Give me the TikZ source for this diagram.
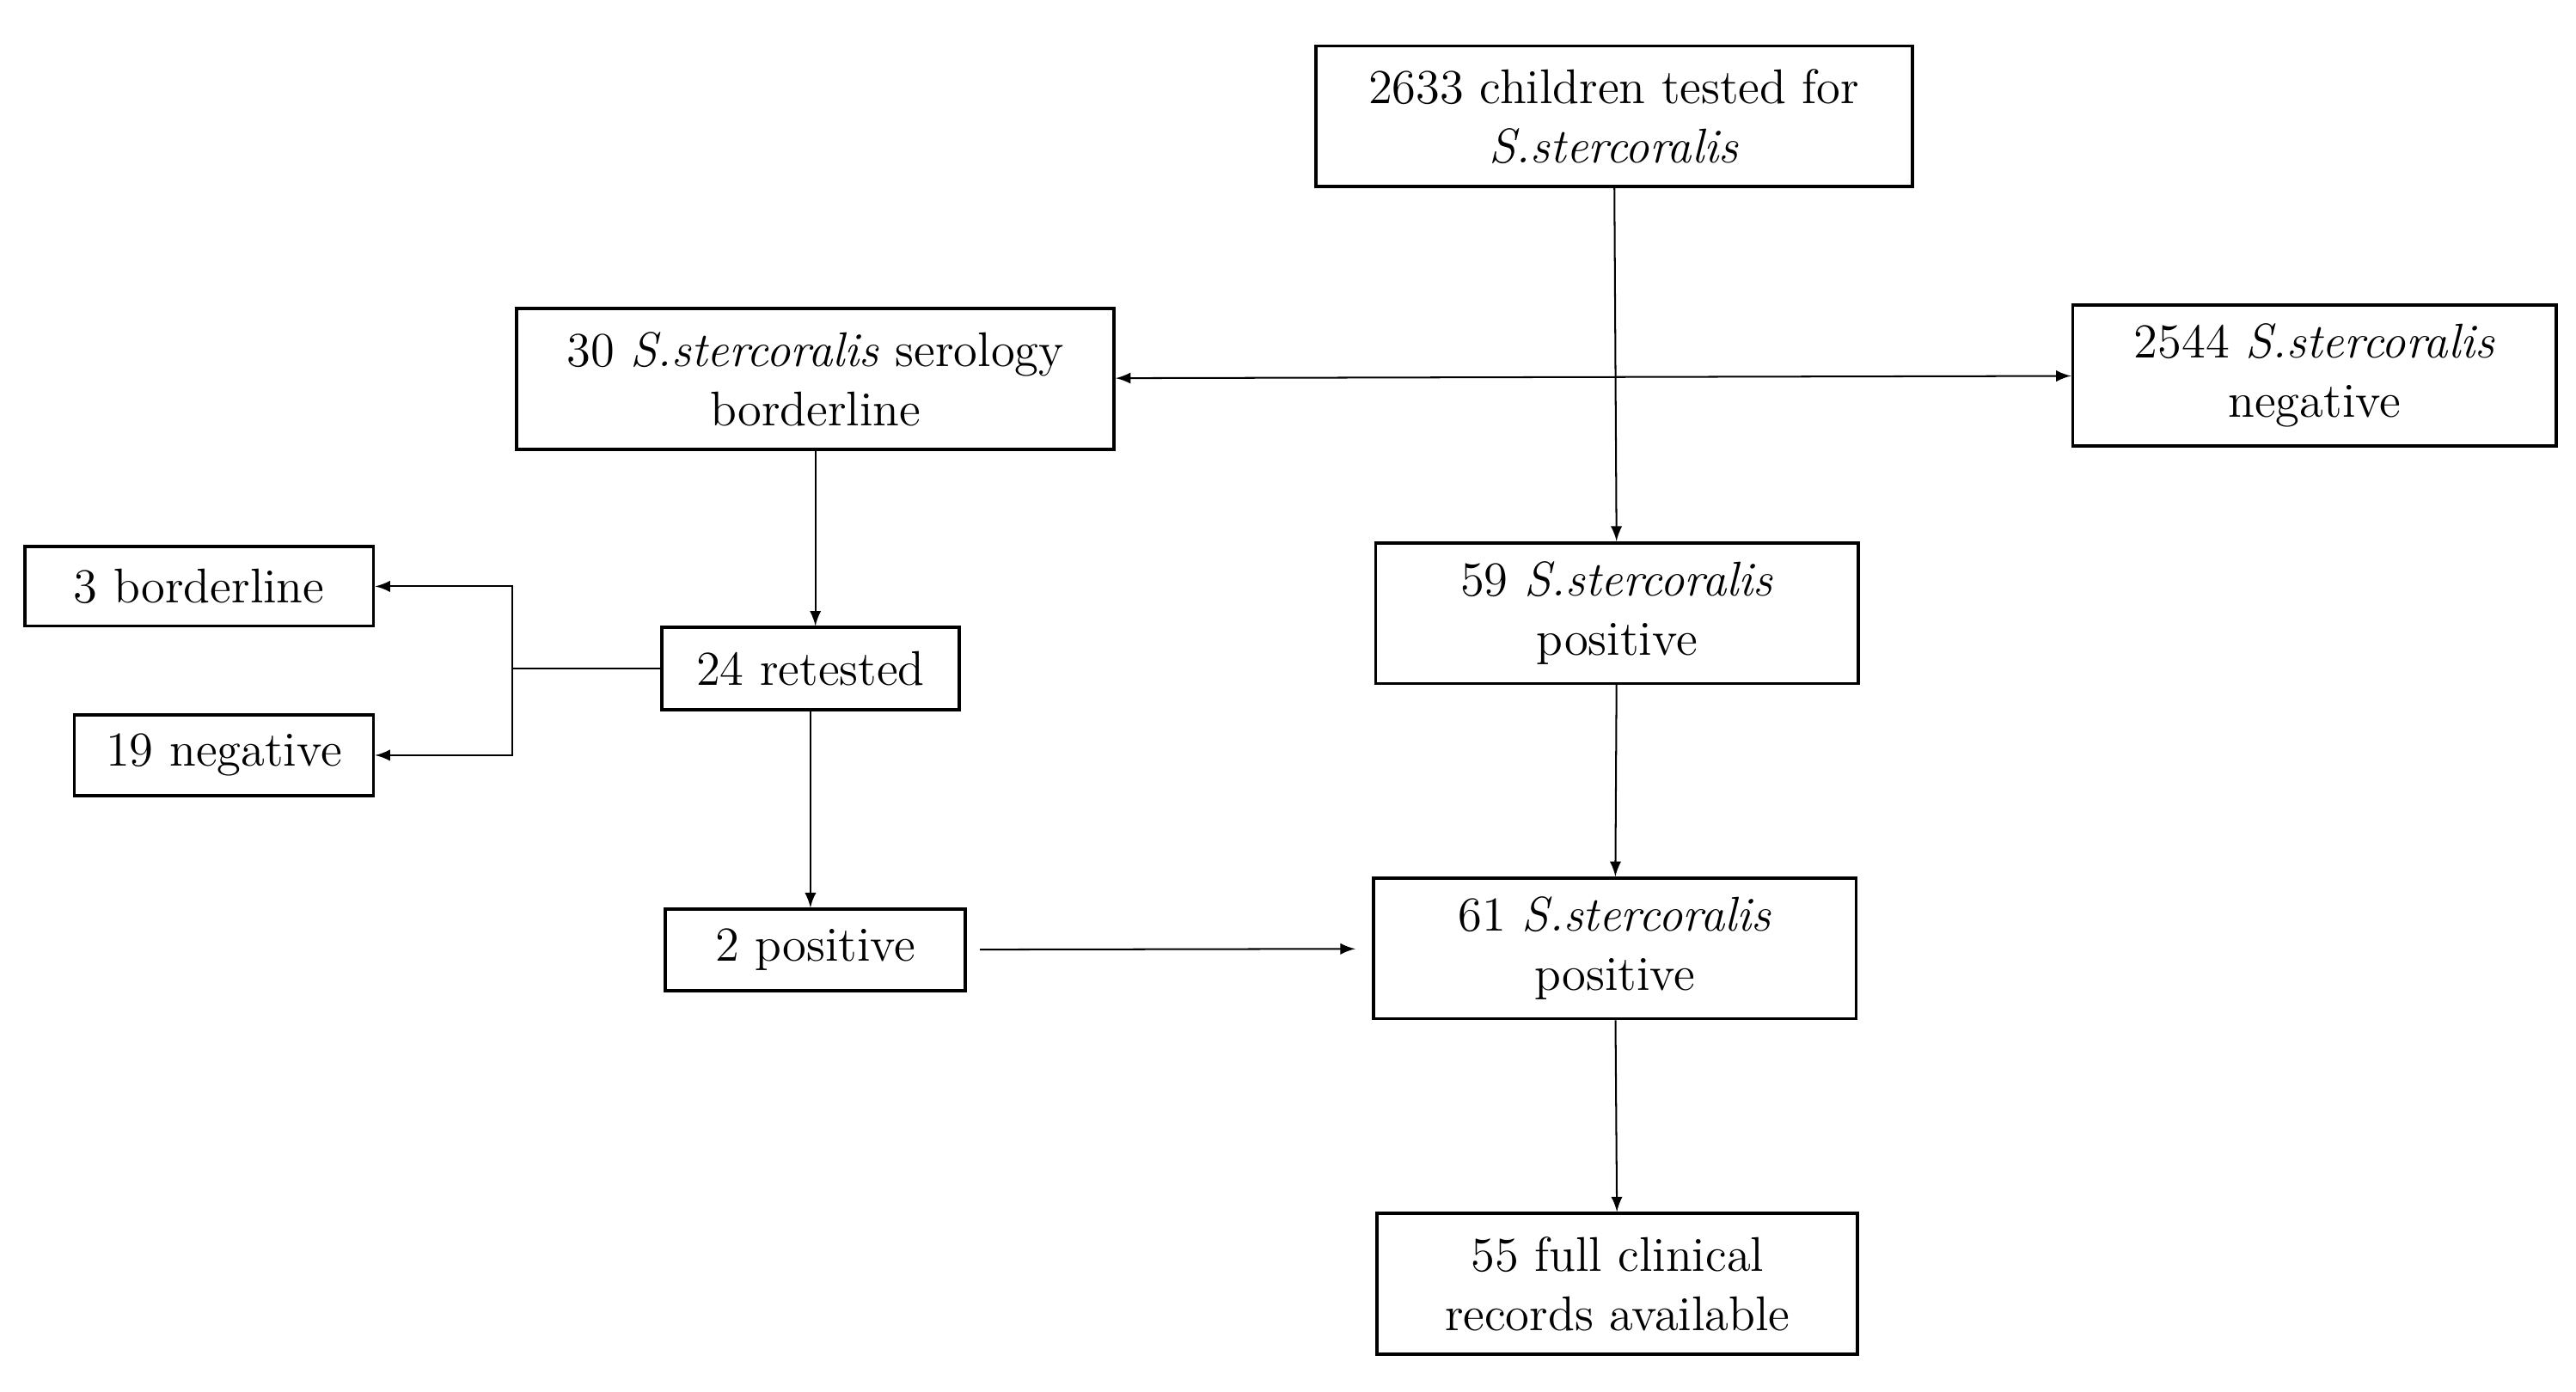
\documentclass[tikz,border=0pt]{standalone}
\begin{document}
\begin{tikzpicture}
		\tikzstyle{fleche}=[->,>=latex,line width=0.5pt]
		\tikzstyle{boite}=[draw,line width=0.9pt,align=center,inner sep=2pt,font=\fontsize{14}{17}\selectfont]
		\tikzstyle{grande}=[boite,minimum height=1.42cm]
		\tikzstyle{petite}=[boite,minimum height=0.82cm]
		
		\def\ColG{8.23}
		\def\ColD{16.30}
		
		\useasboundingbox (0,0) rectangle (26,-14.05);
		
		\node[grande,minimum width=6.02cm] (T) at (16.29,-1.175) {2633 children tested for\\ \textit{S.stercoralis}};
		\node[grande,minimum width=6.03cm] (B30) at ({\ColG},-3.825) {30 \textit{S.stercoralis} serology\\ borderline};
		\node[grande,minimum width=4.88cm] (N2544) at (23.36,-3.79) {2544 \textit{S.stercoralis}\\ negative};
		\node[petite,minimum width=3.52cm,minimum height=0.80cm] (B3) at (2.01,-5.92) {3 borderline};
		\node[petite,minimum width=3.02cm] (N19) at (2.26,-7.625) {19 negative};
		\node[petite,minimum width=3.0cm,minimum height=0.83cm] (R24) at (8.18,-6.75) {24 retested};
		\node[grande,minimum width=4.87cm] (P59) at (16.32,-6.19) {59 \textit{S.stercoralis}\\ positive};
		\node[petite,minimum width=3.03cm] (P2) at ({\ColG},-9.59) {2 positive};
		\node[grande,minimum width=4.87cm] (P61) at ({\ColD},-9.575) {61 \textit{S.stercoralis}\\ positive};
		\node[grande,minimum width=4.85cm] (C55) at (16.325,-12.96) {55 full clinical\\ records available};
		
		\coordinate (J) at (5.17,-6.75);
		
		\draw[fleche] (T) -- (P59);
		\draw[fleche,<->] (B30) -- (N2544);
		\draw[fleche] (B30.south) -- (B30.south |- R24.north);
		\draw[line width=0.5pt] (R24.west) -- (J);
		\draw[fleche] (J) |- (B3.east);
		\draw[fleche] (J) |- (N19.east);
		\draw[fleche] (R24.south) -- (R24.south |- P2.north);
		\draw[fleche,shorten <=0.13cm,shorten >=0.17cm] (P2) -- (P61);
		\draw[fleche] (P59) -- (P61);
		\draw[fleche] (P61) -- (C55);
	\end{tikzpicture}
\end{document}
